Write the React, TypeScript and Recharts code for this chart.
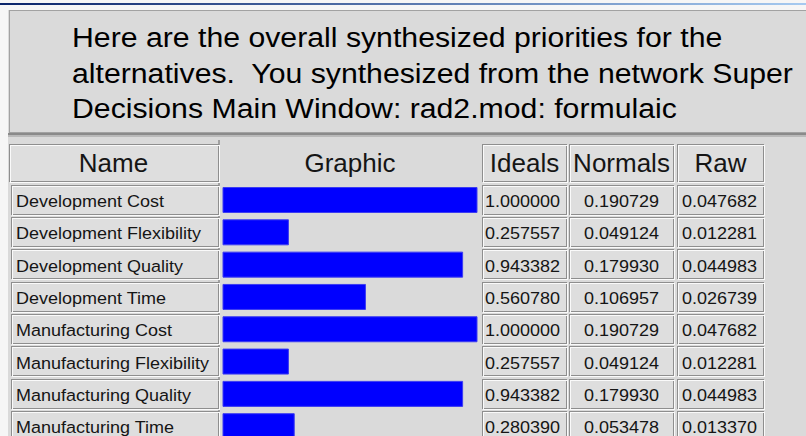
import React from 'react';
import { BarChart, Bar, XAxis, YAxis } from 'recharts';

const titleLines = [
  'Here are the overall synthesized priorities for the',
  'alternatives.  You synthesized from the network Super',
  'Decisions Main Window: rad2.mod: formulaic',
];
const headers = ['Name', 'Graphic', 'Ideals', 'Normals', 'Raw'];
const names = [
  'Development Cost',
  'Development Flexibility',
  'Development Quality',
  'Development Time',
  'Manufacturing Cost',
  'Manufacturing Flexibility',
  'Manufacturing Quality',
  'Manufacturing Time',
];
const ideals = [1.0, 0.257557, 0.943382, 0.56078, 1.0, 0.257557, 0.943382, 0.28039];
const normals = [0.190729, 0.049124, 0.17993, 0.106957, 0.190729, 0.049124, 0.17993, 0.053478];
const raws = [0.047682, 0.012281, 0.044983, 0.026739, 0.047682, 0.012281, 0.044983, 0.01337];

const data = names.map((name, i) => ({ name, ideal: ideals[i], normal: normals[i], raw: raws[i] }));

const FONT = "'Liberation Sans', Arial, Helvetica, sans-serif";
const BG = '#dadada';
const CELL = '#dedede';

function Etched({ x, y, w, h }: { x: number; y: number; w: number; h: number }) {
  return (
    <g>
      <rect x={x + 0.5} y={y + 0.5} width={w} height={h} fill={CELL} stroke="#8e8e8e" />
      <rect x={x + 1.5} y={y + 1.5} width={w} height={h} fill="none" stroke="#fafafa" />
    </g>
  );
}

const COLS = {
  name: { x: 11, w: 207 },
  ideals: { x: 482, w: 84 },
  normals: { x: 569, w: 104 },
  raw: { x: 677, w: 86 },
};

const RowTick = (props: any) => {
  const { y, payload } = props;
  const i = payload.index;
  const top = Math.round(y - 15);
  const h = 29;
  const by = y + 7.5;
  const txt = (x: number, s: string, anchor: string = 'start') => (
    <text
      transform={`translate(${x},${by}) scale(1.06,1)`}
      fontSize={17}
      fontFamily={FONT}
      fill="#151515"
      textAnchor={anchor}
    >
      {s}
    </text>
  );
  return (
    <g>
      <Etched x={COLS.name.x} y={top} w={COLS.name.w} h={h} />
      {txt(16, payload.value)}
      <Etched x={COLS.ideals.x} y={top} w={COLS.ideals.w} h={h} />
      {txt(485, ideals[i].toFixed(6))}
      <Etched x={COLS.normals.x} y={top} w={COLS.normals.w} h={h} />
      {txt(621.5, normals[i].toFixed(6), 'middle')}
      <Etched x={COLS.raw.x} y={top} w={COLS.raw.w} h={h} />
      {txt(682, raws[i].toFixed(6))}
    </g>
  );
};

function Background() {
  const hy = 144;
  const hh = 37;
  const hb = 172;
  const head = (cx: number, s: string) => (
    <text transform={`translate(${cx},${hb}) scale(1.04,1)`} fontSize={25} fontFamily={FONT} fill="#151515" textAnchor="middle">
      {s}
    </text>
  );
  return (
    <svg width={806} height={436} style={{ position: 'absolute', left: 0, top: 0 }}>
      <defs>
        <linearGradient id="tb" x1="0" x2="1" y1="0" y2="0">
          <stop offset="0" stopColor="#0a246a" />
          <stop offset="1" stopColor="#a6caf0" />
        </linearGradient>
      </defs>
      <rect x={0} y={0} width={806} height={436} fill={BG} />
      <rect x={0} y={0} width={806} height={10} fill="#f6f6f6" />
      <rect x={0} y={0} width={8} height={436} fill="#f6f6f6" />
      <rect x={0} y={3} width={806} height={2} fill="url(#tb)" />
      <rect x={9.5} y={10.5} width={800} height={122} fill={BG} stroke="#a2a2a2" />
      <rect x={8} y={133} width={798} height={2} fill="#8a8a8a" />
      <rect x={8} y={135} width={798} height={2} fill="#b9b9b9" />
      <g fontFamily={FONT} fontSize={27} fill="#000">
        {titleLines.map((l, i) => (
          <text key={i} transform={`translate(72,${47 + i * 35.5}) scale(1.12,1)`} style={{ whiteSpace: 'pre' }}>
            {l}
          </text>
        ))}
      </g>
      <rect x={218} y={140} width={2} height={296} fill="#a0a0a0" />
      <Etched x={9} y={hy} w={209} h={hh} />
      {head(113.5, headers[0])}
      {head(350, headers[1])}
      <Etched x={COLS.ideals.x} y={hy} w={COLS.ideals.w} h={hh} />
      {head(524.5, headers[2])}
      <Etched x={COLS.normals.x} y={hy} w={COLS.normals.w} h={hh} />
      {head(621.5, headers[3])}
      <Etched x={COLS.raw.x} y={hy} w={COLS.raw.w} h={hh} />
      {head(720.5, headers[4])}
    </svg>
  );
}

export default function App() {
  return (
    <div style={{ position: 'absolute', left: 0, top: 0, width: 806, height: 436, overflow: 'hidden', background: BG }}>
      <Background />
      <div style={{ position: 'absolute', left: 0, top: 0 }}>
        <BarChart
          width={806}
          height={442}
          layout="vertical"
          data={data}
          margin={{ top: 183.5, right: 329, bottom: 0, left: 0 }}
        >
          <XAxis type="number" domain={[0, 1]} hide />
          <YAxis
            type="category"
            dataKey="name"
            width={223}
            axisLine={false}
            tickLine={false}
            interval={0}
            tick={<RowTick />}
          />
          <Bar dataKey="ideal" barSize={25} fill="#0000ff" stroke="#3c3cf2" isAnimationActive={false} />
        </BarChart>
      </div>
    </div>
  );
}
